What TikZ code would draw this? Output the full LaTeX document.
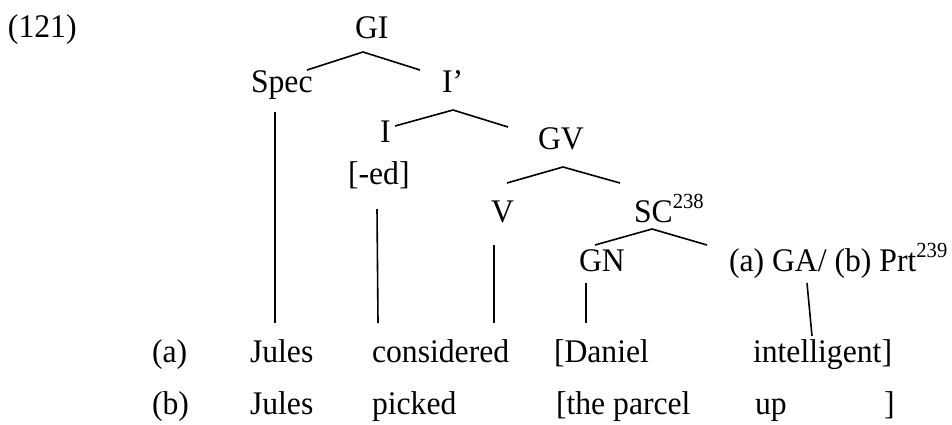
\documentclass[tikz,border=0pt]{standalone}
\usepackage{fontspec}
\setmainfont{Liberation Serif}[FakeStretch=0.96]
\newcommand{\supnum}[1]{\raisebox{14pt}{\fontsize{21.5}{22}\selectfont #1}}
\tikzset{
  lbl/.style={anchor=base west, inner sep=0pt, outer sep=0pt, font=\fontsize{33}{38}\selectfont},
  edge/.style={line width=1.6pt, line cap=butt, line join=miter}
}
\begin{document}
\begin{tikzpicture}[x=1pt, y=-1pt]
\useasboundingbox (0,0) rectangle (952,424);
% labels
\node[lbl] (num) at (8,37) {(121)};
\node[lbl] (gi) at (355,38) {GI};
\node[lbl] (spec) at (251,92) {Spec};
\node[lbl] (ibar) at (442,92) {I’};
\node[lbl] (i) at (380,142) {I};
\node[lbl] (ed) at (348,184) {[-ed]};
\node[lbl] (gv) at (538,149) {GV};
\node[lbl] (v) at (491,222) {V};
\node[lbl] (sc) at (634,222) {SC\supnum{238}};
\node[lbl] (gn) at (579,271) {GN};
\node[lbl] (ga) at (729,271) {(a) GA/ (b) Prt\supnum{239}};
% row a
\node[lbl] (ra) at (152,362) {(a)};
\node[lbl] (ja) at (250,362) {Jules};
\node[lbl] (cons) at (372,362) {considered};
\node[lbl] (dan) at (554,362) {[Daniel};
\node[lbl] (intel) at (753,362) {intelligent]};
% row b
\node[lbl] (rb) at (152,414) {(b)};
\node[lbl] (jb) at (250,414) {Jules};
\node[lbl] (pick) at (372,414) {picked};
\node[lbl] (parc) at (556,414) {[the parcel};
\node[lbl] (up) at (755,414) {up};
\node[lbl] (rbr) at (884,414) {]};
% branch points
\coordinate (giL) at (307,70);  \coordinate (giA) at (363,52);  \coordinate (giR) at (420,70);
\coordinate (ibL) at (395,126); \coordinate (ibA) at (453,110); \coordinate (ibR) at (508,127);
\coordinate (gvL) at (507,183); \coordinate (gvA) at (563,167); \coordinate (gvR) at (620,183);
\coordinate (scL) at (595,245); \coordinate (scA) at (652,229); \coordinate (scR) at (707,245);
\coordinate (specT) at (275,112); \coordinate (specB) at (275,323);
\coordinate (edT) at (377,209);   \coordinate (edB) at (378,323);
\coordinate (vT) at (494,245);    \coordinate (vB) at (494,323);
\coordinate (gnT) at (586,283);   \coordinate (gnB) at (586,323);
\coordinate (gaT) at (807,283);   \coordinate (gaB) at (812,336);
% edges
\draw[edge] (giL) -- (giA) -- (giR);
\draw[edge] (ibL) -- (ibA) -- (ibR);
\draw[edge] (gvL) -- (gvA) -- (gvR);
\draw[edge] (scL) -- (scA) -- (scR);
\draw[edge] (specT) -- (specB);
\draw[edge] (edT) -- (edB);
\draw[edge] (vT) -- (vB);
\draw[edge] (gnT) -- (gnB);
\draw[edge] (gaT) -- (gaB);
\end{tikzpicture}
\end{document}
